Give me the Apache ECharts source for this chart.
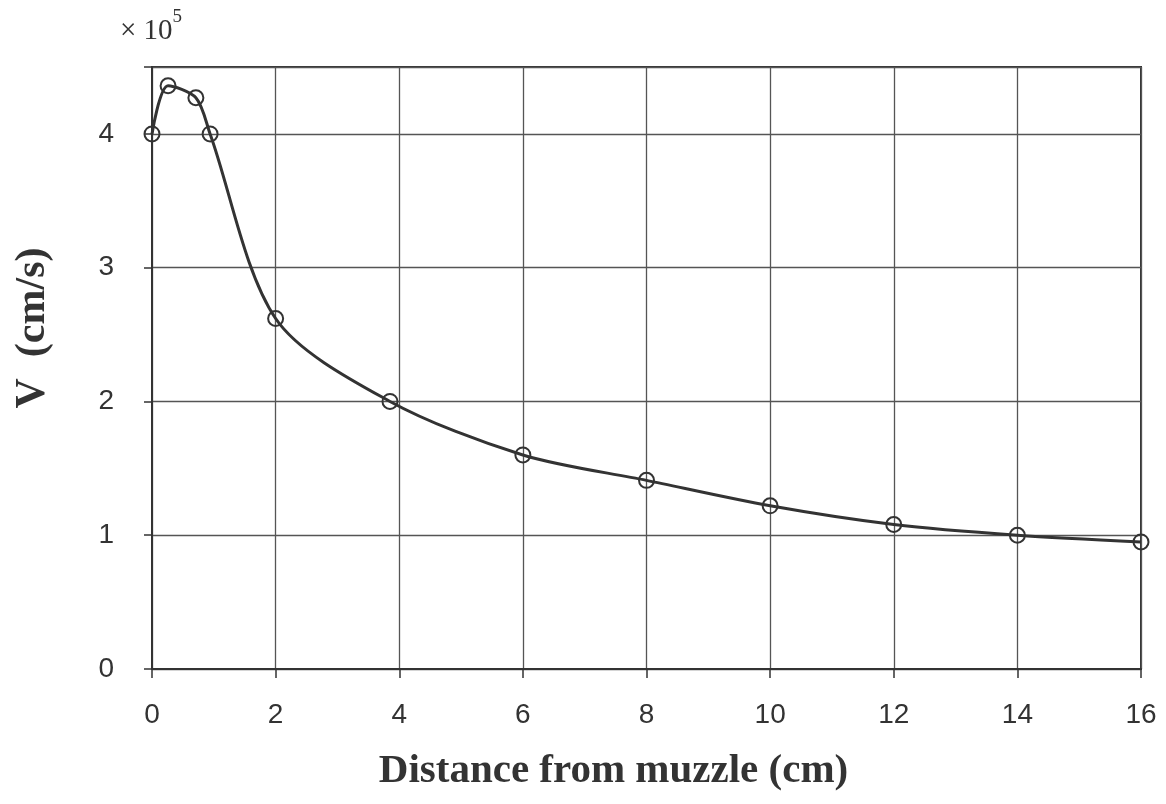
<!DOCTYPE html>
<html>
<head>
<meta charset="utf-8">
<script src="https://cdn.jsdelivr.net/npm/echarts@6/dist/echarts.min.js"></script>
<style>
  html, body { margin: 0; padding: 0; background: #fff; }
  #main { width: 1166px; height: 804px; }
</style>
</head>
<body>
<div id="main"></div>
<script>
// distance from muzzle (cm) and velocity (x 10^5 cm/s)
var distance = [0, 0.26, 0.71, 0.94, 2, 3.85, 6, 8, 10, 12, 14, 16];
var velocity = [4.0, 4.36, 4.27, 4.0, 2.62, 2.0, 1.6, 1.41, 1.22, 1.08, 1.0, 0.95];

var xTitle = 'Distance from muzzle (cm)';
var yTitle = 'V  (cm/s)';
var ink = '#333';

var points = [];
for (var i = 0; i < distance.length; i++) {
    points.push([distance[i], velocity[i]]);
}

var myChart = echarts.init(document.getElementById('main'));
var option = {
    backgroundColor: '#fff',
    animation: false,
    grid: {
        left: 152,
        right: 25,
        top: 67,
        bottom: 135,
        show: true,
        borderColor: ink,
        borderWidth: 2
    },
    graphic: [
        {
            type: 'text',
            left: 120,
            top: 8,
            style: {
                text: '{b|× 10}{s|5}',
                rich: {
                    b: { fontFamily: 'Liberation Serif', fontSize: 29, lineHeight: 38, fill: ink, verticalAlign: 'bottom' },
                    s: { fontFamily: 'Liberation Serif', fontSize: 19, lineHeight: 38, fill: ink, verticalAlign: 'top' }
                }
            }
        },
        {
            type: 'text',
            x: 33,
            y: 328,
            rotation: Math.PI / 2,
            style: {
                text: yTitle,
                fontFamily: 'Liberation Serif',
                fontWeight: 'bold',
                fontSize: 42,
                fill: ink,
                align: 'center',
                verticalAlign: 'middle'
            }
        }
    ],
    xAxis: {
        type: 'value',
        min: 0,
        max: 16,
        interval: 2,
        name: xTitle,
        nameLocation: 'middle',
        nameGap: 82,
        nameTextStyle: {
            fontFamily: 'Liberation Serif',
            fontWeight: 'bold',
            fontSize: 41,
            color: ink,
            padding: [0, 66, 0, 0]
        },
        axisLine: { lineStyle: { color: ink, width: 2 } },
        axisTick: { show: true, length: 9, lineStyle: { color: ink, width: 1.5 } },
        axisLabel: {
            margin: 32,
            fontFamily: 'Liberation Sans',
            fontSize: 28,
            color: ink
        },
        splitLine: { show: true, lineStyle: { color: '#555', width: 1.3 } }
    },
    yAxis: {
        type: 'value',
        min: 0,
        max: 4.5,
        interval: 1,
        axisLine: { show: true, lineStyle: { color: ink, width: 2 } },
        axisTick: { show: true, length: 8, lineStyle: { color: ink, width: 1.5 } },
        axisLabel: {
            margin: 38,
            fontFamily: 'Liberation Sans',
            fontSize: 28,
            color: ink,
            formatter: function (v) {
                return Number.isInteger(v) ? String(v) : '';
            }
        },
        splitLine: { show: true, lineStyle: { color: '#555', width: 1.3 } }
    },
    series: [{
        type: 'line',
        data: points,
        smooth: 0.3,
        symbol: 'circle',
        symbolSize: 15,
        lineStyle: { color: ink, width: 3 },
        itemStyle: { color: 'rgba(255,255,255,0)', borderColor: ink, borderWidth: 2 }
    }]
};
myChart.setOption(option);
</script>
</body>
</html>
